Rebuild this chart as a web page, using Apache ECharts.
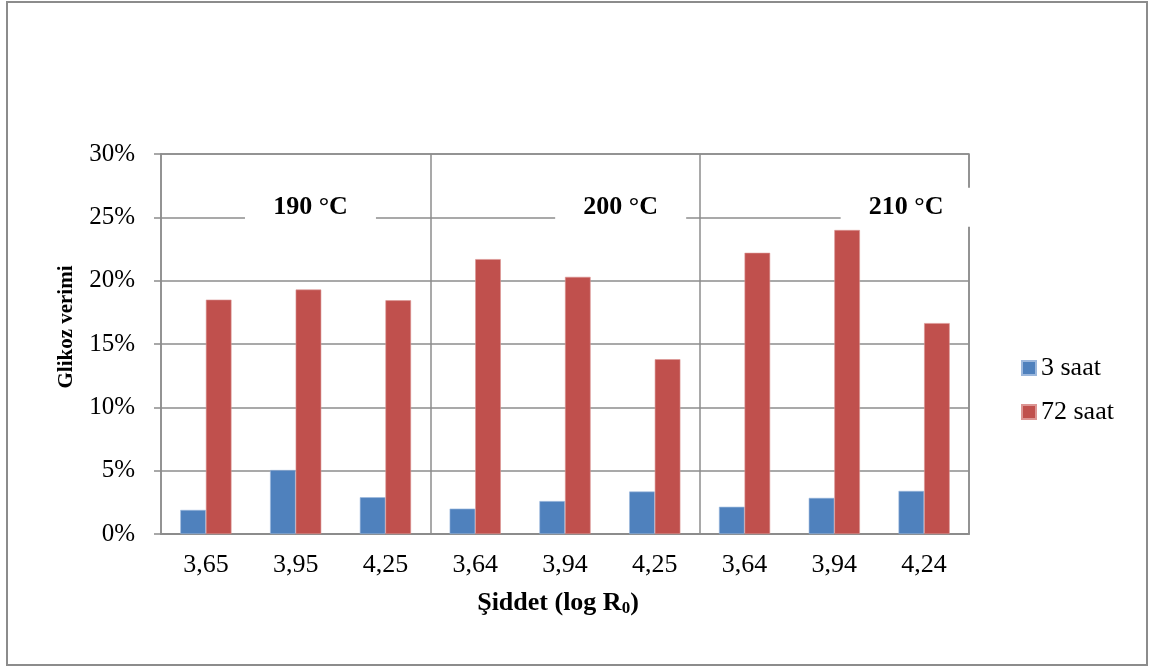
<!DOCTYPE html>
<html>
<head>
<meta charset="utf-8">
<script src="https://cdn.jsdelivr.net/npm/echarts@6/dist/echarts.min.js"></script>
<style>
html,body{margin:0;padding:0;background:#fff;}
#frame{position:absolute;left:6px;top:1px;width:1138px;height:661px;border:2px solid #8c8c8c;}
#main{position:absolute;left:0;top:0;width:1150px;height:666px;}
</style>
</head>
<body>
<div id="frame"></div>
<div id="main"></div>
<script>
var categories = ['3,65','3,95','4,25','3,64','3,94','4,25','3,64','3,94','4,24'];
var series3h = [1.9, 5.05, 2.9, 2.0, 2.6, 3.35, 2.15, 2.85, 3.4];
var series72h = [18.5, 19.3, 18.45, 21.7, 20.3, 13.8, 22.2, 24.0, 16.65];
var groupLabels = ['190 °C', '200 °C', '210 °C'];
var groupLabelPos = [1.165, 4.62, 7.8];
var groupLabelValue = 25.8;
var yTicks = [0, 5, 10, 15, 20, 25, 30];

var FONT = 'Liberation Serif';
var GRID = '#8c8c8c';
var chart = echarts.init(document.getElementById('main'));
var option = {
  animation: false,
  backgroundColor: 'transparent',
  grid: {left: 161, right: 181, top: 154, bottom: 132, show: true, borderColor: GRID, borderWidth: 1.5},
  legend: {
    orient: 'vertical', left: 1016, top: 350, itemWidth: 14, itemHeight: 14, itemGap: 18,
    icon: 'rect',
    textStyle: {fontFamily: FONT, fontSize: 26, color: '#000'},
    data: ['3 saat', '72 saat']
  },
  xAxis: {
    type: 'category', data: categories,
    axisLine: {show: true, lineStyle: {color: GRID, width: 2}},
    axisTick: {show: false},
    axisLabel: {fontFamily: FONT, fontSize: 26, color: '#000', margin: 18},
    splitLine: {show: true, interval: function (i) { return i === 3 || i === 6; }, lineStyle: {color: GRID, width: 1.5}},
    name: 'Şiddet (log R{sub|0})',
    nameLocation: 'middle', nameGap: 56,
    nameTextStyle: {fontFamily: FONT, fontSize: 26, fontWeight: 'bold', color: '#000', padding: [0, 14, 0, 0],
      rich: {sub: {fontFamily: FONT, fontSize: 17, fontWeight: 'bold', color: '#000', verticalAlign: 'bottom', padding: [10, 0, 0, 0]}}}
  },
  yAxis: {
    type: 'value', min: 0, max: 30, interval: 5,
    axisLine: {show: true, lineStyle: {color: GRID, width: 1.5}},
    axisTick: {show: true, length: 7, lineStyle: {color: GRID, width: 1.5}},
    axisLabel: {fontFamily: FONT, fontSize: 25, color: '#000', margin: 26, formatter: '{value}%'},
    splitLine: {show: true, lineStyle: {color: GRID, width: 1.5}},
    name: 'Glikoz verimi', nameLocation: 'middle', nameGap: 84,
    nameTextStyle: {fontFamily: FONT, fontSize: 21, fontWeight: 'bold', color: '#000', padding: [0, 0, 0, 34]}
  },
  series: [
    {name: '3 saat', type: 'bar', data: series3h, barGap: '0%', barCategoryGap: '43%',
      itemStyle: {color: '#4F81BD', borderColor: '#9cb8dd', borderWidth: 0.6}},
    {name: '72 saat', type: 'bar', data: series72h, barGap: '0%', barCategoryGap: '43%',
      itemStyle: {color: '#C0504D', borderColor: '#dc9593', borderWidth: 0.6}}
  ]
};
chart.setOption(option);

// group annotation boxes, positioned through the chart's own scales
var p0 = chart.convertToPixel({xAxisIndex: 0}, 0);
var p1 = chart.convertToPixel({xAxisIndex: 0}, 1);
var yPix = chart.convertToPixel({yAxisIndex: 0}, groupLabelValue);
var elems = groupLabels.map(function (t, i) {
  var cx = p0 + groupLabelPos[i] * (p1 - p0);
  return {
    type: 'group', x: cx, y: yPix, z: 100,
    children: [
      {type: 'rect', shape: {x: -65.5, y: -19.5, width: 131, height: 39}, style: {fill: '#fff'}},
      {type: 'text', style: {text: t, x: 0, y: 0, align: 'center', verticalAlign: 'middle',
        font: 'bold 26px "Liberation Serif"', fill: '#000'}}
    ]
  };
});
chart.setOption({graphic: elems});
</script>
</body>
</html>
